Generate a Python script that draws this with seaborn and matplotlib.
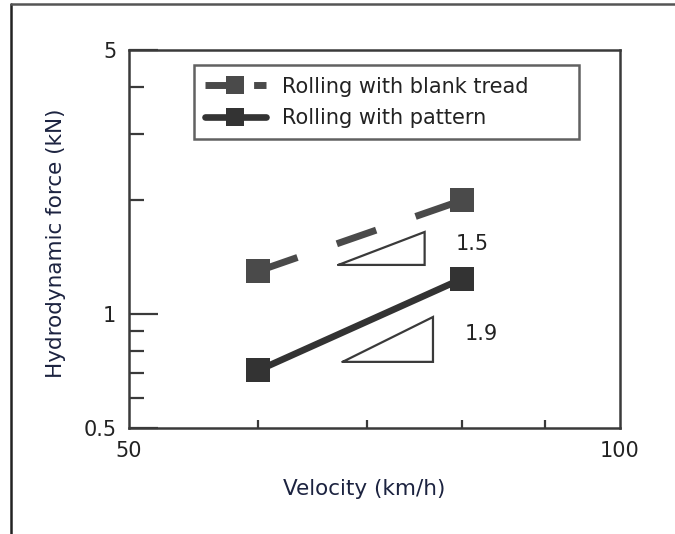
import numpy as np
import pandas as pd
import matplotlib
matplotlib.use("Agg")
import matplotlib.pyplot as plt
from matplotlib.lines import Line2D
from matplotlib.ticker import NullFormatter, FixedLocator, FixedFormatter
import seaborn as sns

# ---- data ----
series = ["Rolling with blank tread", "Rolling with pattern"]
velocity = [60, 80]
force_blank = [1.30, 2.00]
force_pattern = [0.71, 1.24]

# slope triangles: (x_left, x_right, y_bottom, y_top) and labels
tri_blank = [67.2, 75.9, 1.35, 1.65]
tri_pattern = [67.6, 76.8, 0.748, 0.983]
slope_labels = ["1.5", "1.9"]
slope_label_pos_x = [79.3, 80.3]
slope_label_pos_y = [1.53, 0.885]

x_major = [50, 100]
x_minor = [60, 70, 80, 90]
y_major = [0.5, 1, 5]
y_major_labels = ["0.5", "1", "5"]
y_minor = [0.6, 0.7, 0.8, 0.9, 2, 3, 4]

df = pd.DataFrame({
    "Velocity": velocity * 2,
    "Force": force_blank + force_pattern,
    "Series": [series[0]] * len(velocity) + [series[1]] * len(velocity),
})

sns.set_theme(style="white")
plt.rcParams["font.family"] = ["DejaVu Sans"]

label_color = "#1c2340"
tick_color = "#222222"
frame_color = "#3a3a3a"

fig = plt.figure(figsize=(6.75, 5.34), dpi=100)
ax = fig.add_axes([0.191, 0.1985, 0.7275, 0.708])

sns.lineplot(
    data=df, x="Velocity", y="Force", hue="Series", style="Series",
    palette={series[0]: "#4a4a4a", series[1]: "#333333"},
    dashes={series[0]: (6, 6), series[1]: ""},
    markers={series[0]: "s", series[1]: "s"},
    markersize=17, markeredgewidth=0, linewidth=5, ax=ax, legend=False,
)
ax.lines[1].set_linewidth(4.8)

ax.set_xscale("log")
ax.set_yscale("log")
ax.set_xlim(50, 100)
ax.set_ylim(0.5, 5)

# slope triangles
for tri in (tri_blank, tri_pattern):
    xl, xr, yb, yt = tri
    ax.plot([xl, xr, xr, xl], [yb, yb, yt, yb], color="#3a3a3a", lw=1.6,
            solid_joinstyle="miter")
for lab, lx, ly in zip(slope_labels, slope_label_pos_x, slope_label_pos_y):
    ax.text(lx, ly, lab, fontsize=15, color=tick_color, va="center", ha="left")

# ticks
ax.xaxis.set_major_locator(FixedLocator(x_major))
ax.xaxis.set_major_formatter(FixedFormatter([str(v) for v in x_major]))
ax.xaxis.set_minor_locator(FixedLocator(x_minor))
ax.xaxis.set_minor_formatter(NullFormatter())
ax.yaxis.set_major_locator(FixedLocator(y_major))
ax.yaxis.set_major_formatter(FixedFormatter(y_major_labels))
ax.yaxis.set_minor_locator(FixedLocator(y_minor))
ax.yaxis.set_minor_formatter(NullFormatter())

ax.tick_params(axis="both", which="both", direction="in", colors=frame_color,
               labelcolor=tick_color, labelsize=15, width=1.6,
               bottom=True, left=True, top=False, right=False)
ax.tick_params(axis="x", which="major", length=0, pad=9)
ax.tick_params(axis="x", which="minor", length=6)
ax.tick_params(axis="y", which="major", length=21, pad=9)
ax.tick_params(axis="y", which="minor", length=11)

for sp in ax.spines.values():
    sp.set_color(frame_color)
    sp.set_linewidth(1.8)
    sp.set_visible(True)

ax.set_xlabel("Velocity (km/h)", fontsize=15.5, color=label_color)
ax.set_ylabel("Hydrodynamic force (kN)", fontsize=15.5, color=label_color)
ax.xaxis.set_label_coords(0.479, -0.135)
ax.yaxis.set_label_coords(-0.128, 0.489)

# legend
handles = [
    Line2D([], [], color="#4a4a4a", lw=5, dashes=(3, 4), marker="s",
           markersize=13, markeredgewidth=0),
    Line2D([], [], color="#333333", lw=4.8, marker="s", markersize=13,
           markeredgewidth=0),
]
leg = ax.legend(handles, series, loc="upper left",
                bbox_to_anchor=(0.132, 0.749, 0.784, 0.211), mode="expand",
                borderaxespad=0, fontsize=15, frameon=True, fancybox=False,
                handlelength=2.9, handletextpad=0.8, borderpad=0.55,
                labelspacing=0.55, labelcolor=tick_color)
leg.get_frame().set_edgecolor(frame_color)
leg.get_frame().set_linewidth(1.8)

# outer border of the figure (left and top only)
fig.add_artist(Line2D([0.0163, 0.0163], [0.0, 0.9925], transform=fig.transFigure,
                      color="#222222", lw=1.8))
fig.add_artist(Line2D([0.0163, 1.0], [0.9925, 0.9925], transform=fig.transFigure,
                      color="#555555", lw=1.8))

fig.savefig("out.png", dpi=100)
